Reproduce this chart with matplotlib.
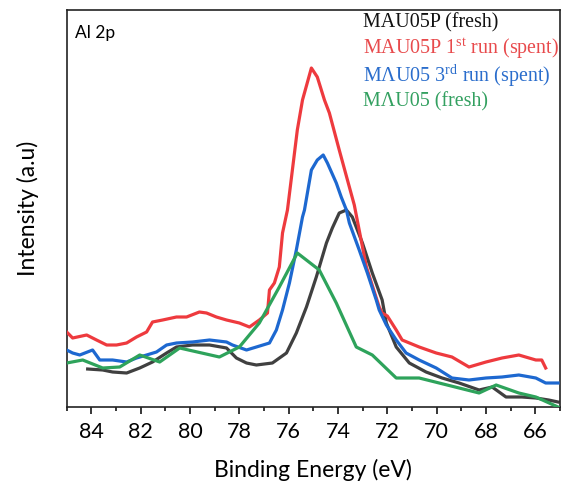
import matplotlib
matplotlib.use("Agg")
import matplotlib.pyplot as plt
from matplotlib.ticker import MultipleLocator, NullLocator

plt.rcParams['mathtext.fontset'] = 'custom'
plt.rcParams['mathtext.rm'] = 'Liberation Serif'
plt.rcParams['mathtext.it'] = 'Liberation Serif:italic'

# ---- data (binding energy in eV, intensity in arbitrary units) ----
red_e = [85.0, 84.76, 84.19, 83.79, 83.38, 82.98, 82.57, 82.17, 81.76, 81.52, 81.11, 80.55,
         80.14, 79.62, 79.33, 78.93, 78.52, 78.00, 77.59, 77.19, 76.86, 76.78, 76.58, 76.38,
         76.25, 76.05, 75.65, 75.44, 75.08, 74.84, 74.55, 74.35, 73.95, 73.54, 73.34, 72.85,
         72.33, 72.21, 72.00, 71.64, 71.40, 70.71, 70.02, 69.38, 68.69, 68.00, 67.35, 66.67,
         65.98, 65.74, 65.58]
red_i = [75, 69, 72, 67, 62, 62, 64, 70, 75, 85, 87, 90,
         90, 95, 94, 90, 87, 84, 80, 87, 94, 117, 124, 140,
         174, 197, 277, 307, 339, 330, 307, 294, 257, 220, 202, 140,
         100, 94, 91, 77, 67, 60, 54, 50, 40, 45, 49, 52,
         47, 47, 39]

blue_e = [85.0, 84.76, 84.47, 83.95, 83.66, 83.14, 82.57, 82.17, 81.76, 81.36, 80.95, 80.55,
          79.90, 79.21, 78.52, 78.28, 77.71, 77.31, 76.78, 76.50, 76.25, 75.97, 75.69, 75.44,
          75.36, 75.08, 74.84, 74.60, 74.43, 74.07, 73.87, 73.66, 73.54, 73.14, 72.81, 72.45,
          72.33, 72.04, 71.64, 71.24, 70.71, 70.02, 69.38, 68.69, 68.00, 67.35, 66.67, 65.98,
          65.58, 65.08]
blue_i = [57, 54, 52, 57, 47, 47, 45, 49, 52, 55, 62, 64,
          65, 67, 65, 62, 57, 60, 64, 77, 97, 124, 157, 190,
          197, 237, 247, 252, 244, 224, 210, 197, 184, 157, 134, 107,
          97, 82, 67, 54, 47, 39, 29, 27, 29, 30, 32, 29,
          24, 24]

black_e = [84.15, 83.54, 83.14, 82.57, 82.04, 81.52, 80.95, 80.55, 79.90, 79.21, 78.52, 78.12,
           77.71, 77.31, 76.66, 76.09, 75.69, 75.28, 74.88, 74.47, 74.23, 73.95, 73.66, 73.42,
           73.01, 72.61, 72.21, 72.04, 71.64, 71.11, 70.43, 69.78, 69.09, 68.28, 67.75, 67.19,
           66.55, 65.98, 65.46, 65.08]
black_i = [38, 37, 35, 34, 39, 45, 54, 60, 62, 62, 59, 49,
           44, 42, 44, 54, 74, 100, 130, 164, 179, 194, 197, 190,
           164, 134, 107, 84, 60, 44, 35, 29, 24, 17, 20, 10,
           10, 9, 7, 5]

green_e = [85.0, 84.35, 83.54, 82.85, 82.04, 81.23, 80.42, 78.81, 78.00, 77.19, 76.38, 75.65,
           74.76, 74.07, 73.26, 72.61, 71.64, 70.71, 68.28, 67.59, 66.67, 65.98, 65.08]
green_i = [44, 47, 39, 40, 52, 45, 59, 50, 60, 84, 120, 154,
           137, 104, 60, 52, 29, 29, 14, 22, 14, 10, 0]

labels = ["MAU05P (fresh)",
          r"MAU05P 1$^{\mathrm{st}}$ run (spent)",
          r"MΛU05 3$^{\mathrm{rd}}$ run (spent)",
          "MΛU05 (fresh)"]
line_colors = ['#404040', '#ee3a3e', '#1d68d0', '#2ea35b']
text_colors = ['#111111', '#e84a4c', '#2a6dcc', '#33a060']

W, H = 563, 492
fig = plt.figure(figsize=(W / 100, H / 100), dpi=100)
ax = fig.add_axes([66.7 / W, (H - 407) / H, (560 - 66.7) / W, (407 - 10) / H])

ax.plot(black_e, black_i, color=line_colors[0], lw=2.3, zorder=2)
ax.plot(red_e, red_i, color=line_colors[1], lw=2.3, zorder=3)
ax.plot(blue_e, blue_i, color=line_colors[2], lw=2.3, zorder=4)
ax.plot(green_e, green_i, color=line_colors[3], lw=2.3, zorder=5)

ax.set_xlim(85, 65)
ax.set_ylim(0, 397)
ax.xaxis.set_major_locator(MultipleLocator(2))
ax.xaxis.set_minor_locator(MultipleLocator(1))
ax.yaxis.set_major_locator(NullLocator())
ax.yaxis.set_minor_locator(NullLocator())
ax.tick_params(axis='x', which='major', direction='out', length=5, width=1.1,
               labelsize=15.5, pad=6)
ax.tick_params(axis='x', which='minor', direction='out', length=3, width=1.1)
for lab in ax.get_xticklabels():
    lab.set_fontfamily('Lato')
for s in ax.spines.values():
    s.set_linewidth(1.2)
    s.set_color('#222222')

ax.set_xlabel("Binding Energy (eV)", fontsize=16.5, family='Lato', labelpad=12)
ax.set_ylabel("Intensity (a.u)", fontsize=16.5, family='Lato', labelpad=20)

ax.text(75 / W, 1 - 33 / H, "Al 2p", transform=fig.transFigure, fontsize=12.5,
        family='Lato', va='center', ha='left')

ys = [23, 49, 76, 102]
for lab, c, y in zip(labels, text_colors, ys):
    fig.text(363 / W, 1 - y / H, lab, color=c, fontsize=14.4, family='Liberation Serif',
             va='center', ha='left')

fig.savefig("out.png", dpi=100)
